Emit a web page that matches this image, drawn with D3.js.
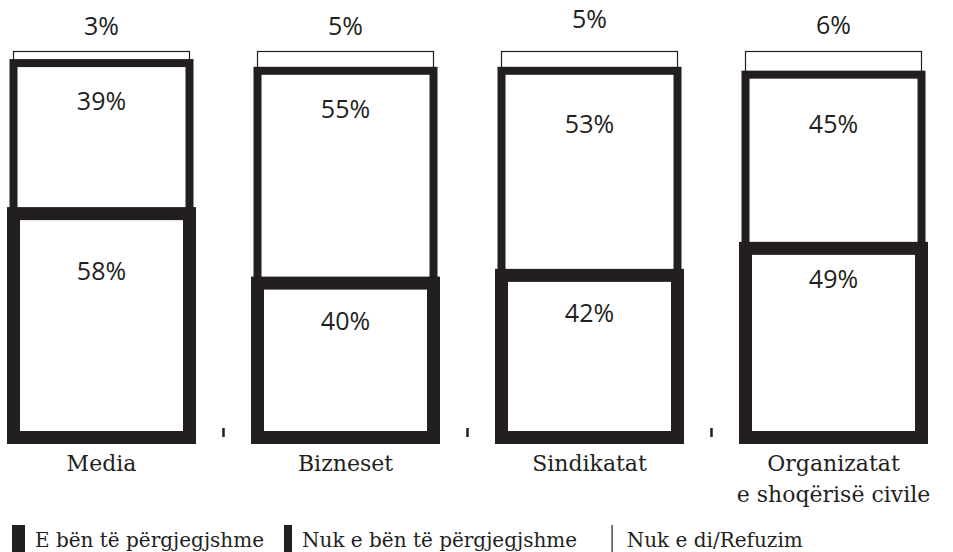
<!DOCTYPE html>
<html>
<head>
<meta charset="utf-8">
<script src="https://cdn.jsdelivr.net/npm/d3@7"></script>
<style>
    body { margin: 0; background: #fff; }
    svg { display: block; }
    .pct { font-family: "Open Sans", sans-serif; font-size: 25px; fill: #231f20; }
    .cat { font-family: "DejaVu Serif", serif; font-size: 22px; fill: #231f20; }
    .leg { font-family: "DejaVu Serif", serif; font-size: 20px; fill: #231f20; }
</style>
</head>
<body>
<div id="chart"></div>
<script>
// Data
const categories = ["Media", "Bizneset", "Sindikatat", "Organizatat\ne shoqërisë civile"];
const seriesNames = ["E bën të përgjegjshme", "Nuk e bën të përgjegjshme", "Nuk e di/Refuzim"];
const doesIt = [58, 40, 42, 49];
const doesNot = [39, 55, 53, 45];
const dontKnow = [3, 5, 5, 6];

// Style per series (bottom, middle, top)
const strokeW = [13, 8, 1.2];
const INK = "#231f20";

// Label offsets from the top of each segment (hand placed in the original)
const labelDy = [
    [66, 47, 47, 40],
    [47, 47, 62, 58],
    [-16.5, -16.5, -23.5, -17.5]
];

const width = 953, height = 552;

const rows = categories.map((c, i) => ({
    cat: c,
    [seriesNames[0]]: doesIt[i],
    [seriesNames[1]]: doesNot[i],
    [seriesNames[2]]: dontKnow[i]
}));

const stacked = d3.stack().keys(seriesNames)(rows);

const x = d3.scaleBand()
    .domain(categories)
    .range([13.5, 921.5])
    .paddingInner(68 / 244)
    .paddingOuter(0);

const y = d3.scaleLinear()
    .domain([0, 100])
    .range([437.5, 51.5]);

const svg = d3.select("#chart").append("svg")
    .attr("width", width)
    .attr("height", height);

// Draw top series first so thicker ones sit above
const order = [2, 1, 0];
order.forEach(si => {
    svg.append("g")
        .attr("class", "series s" + si)
        .selectAll("rect")
        .data(stacked[si])
        .enter().append("rect")
            .attr("x", d => x(d.data.cat))
            .attr("y", d => y(d[1]))
            .attr("width", x.bandwidth())
            .attr("height", d => y(d[0]) - y(d[1]))
            .attr("fill", "#fff")
            .attr("stroke", INK)
            .attr("stroke-width", strokeW[si]);
});

// Value labels
stacked.forEach((s, si) => {
    svg.append("g")
        .selectAll("text")
        .data(s)
        .enter().append("text")
            .attr("class", "pct")
            .attr("text-anchor", "middle")
            .attr("x", d => x(d.data.cat) + x.bandwidth() / 2)
            .attr("y", (d, i) => y(d[1]) + labelDy[si][i])
            .text(d => (d[1] - d[0]) + "%");
});

// Small ticks between the categories
const gaps = categories.slice(0, -1).map(c => x(c) + x.bandwidth() + x.step() * x.paddingInner() / 2);
svg.append("g")
    .selectAll("line")
    .data(gaps)
    .enter().append("line")
        .attr("x1", d => d)
        .attr("x2", d => d)
        .attr("y1", y(0) - 9.5)
        .attr("y2", y(0) - 0.5)
        .attr("stroke", INK)
        .attr("stroke-width", 2.5);

// Category labels
const catText = svg.append("g")
    .selectAll("text")
    .data(categories)
    .enter().append("text")
        .attr("class", "cat")
        .attr("text-anchor", "middle")
        .attr("x", d => x(d) + x.bandwidth() / 2)
        .attr("y", 471);

catText.selectAll("tspan")
    .data(d => d.split("\n").map(t => ({ t: t, x: x(d) + x.bandwidth() / 2 })))
    .enter().append("tspan")
        .attr("x", d => d.x)
        .attr("dy", (d, i) => i === 0 ? 0 : 31)
        .text(d => d.t);

// Legend
const legendX = [12, 284, 611.5];
const legend = svg.append("g")
    .selectAll("g")
    .data(seriesNames)
    .enter().append("g")
        .attr("transform", (d, i) => "translate(" + legendX[i] + ",0)");

legend.append("line")
    .attr("x1", (d, i) => strokeW[i] / 2)
    .attr("x2", (d, i) => strokeW[i] / 2)
    .attr("y1", 525)
    .attr("y2", height)
    .attr("stroke", INK)
    .attr("stroke-width", (d, i) => strokeW[i]);

legend.append("text")
    .attr("class", "leg")
    .attr("x", (d, i) => strokeW[i] + (i === 2 ? 14 : 10))
    .attr("y", 547)
    .text(d => d);
</script>
</body>
</html>
